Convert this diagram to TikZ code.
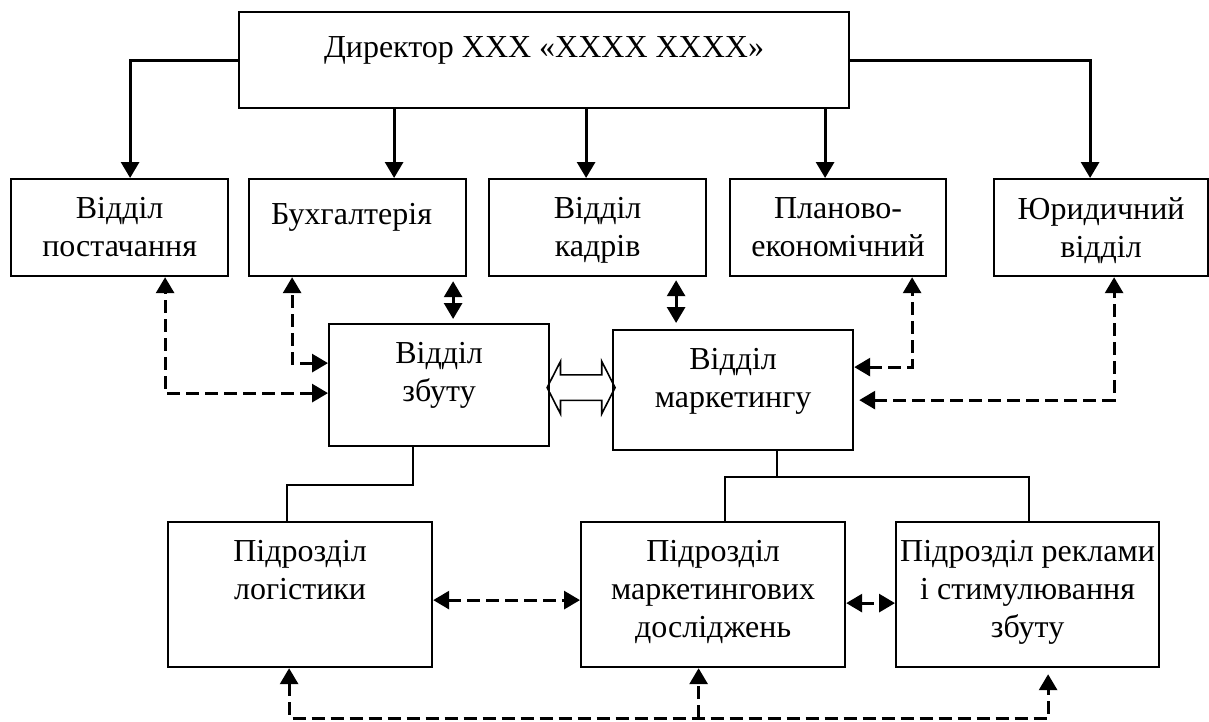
\documentclass[tikz,border=0pt]{standalone}
\usepackage{fontspec}
\setmainfont{Liberation Serif}
\usetikzlibrary{arrows.meta, calc, shapes.arrows}

\begin{document}
\begin{tikzpicture}[
            x=0.5pt, y=-0.5pt,
            >={Triangle[length=8pt, width=9pt]},
            font=\fontsize{16}{18.8}\selectfont,
            box/.style={draw, line width=1.1pt, anchor=north west, inner sep=0pt},
            boxtext/.style={anchor=north, inner sep=0pt, yshift=-9.7pt, align=center, execute at begin node=\strut},
            mainarrow/.style={->, line width=1.5pt},
            dashlink/.style={<->, line width=1.5pt, dash pattern=on 6.5pt off 3pt},
            treeline/.style={line width=0.8pt},
            dblarrow/.style={double arrow, draw, line width=0.8pt, inner sep=6pt, minimum height=34pt,
                double arrow head extend=6.75pt, double arrow tip angle=126}
        ]
        \useasboundingbox (0,0) rectangle (1209,722);

        % Nodes
        \node[box, minimum width=305pt, minimum height=48pt, label={[boxtext]north:Директор ХХХ «ХХХХ ХХХХ»}] (dir) at (238,11) {};

        \node[box, minimum width=108.5pt, minimum height=48.5pt, label={[boxtext]north:Відділ\\постачання}] (post) at (10,178) {};
        \node[box, minimum width=108.5pt, minimum height=48.5pt, label={[boxtext, xshift=-3pt]north:Бухгалтерія}] (buh) at (248,178) {};
        \node[box, minimum width=108.5pt, minimum height=48.5pt, label={[boxtext]north:Відділ\\кадрів}] (kadr) at (488,178) {};
        \node[box, minimum width=108pt, minimum height=48.5pt, label={[boxtext]north:Планово-\\економічний}] (plan) at (729,178) {};
        \node[box, minimum width=107pt, minimum height=48.5pt, label={[boxtext]north:Юридичний\\відділ}] (yur) at (993,178) {};

        \node[box, minimum width=110pt, minimum height=61pt, label={[boxtext]north:Відділ\\збуту}] (zbut) at (328,323) {};
        \node[box, minimum width=120pt, minimum height=60pt, label={[boxtext]north:Відділ\\маркетингу}] (mark) at (612,329) {};

        \node[box, minimum width=132pt, minimum height=72.5pt, label={[boxtext]north:Підрозділ\\логістики}] (logi) at (167,521) {};
        \node[box, minimum width=132pt, minimum height=72.5pt, label={[boxtext]north:Підрозділ\\маркетингових\\досліджень}] (dosl) at (580,521) {};
        \node[box, minimum width=131.5pt, minimum height=72.5pt, label={[boxtext]north:Підрозділ реклами\\і стимулювання\\збуту}] (rekl) at (895,521) {};

        \node[dblarrow] (link) at ($(zbut.east)!0.5!(mark.west)$) {};

        % Director to departments
        \draw[mainarrow] (dir.west) -| ([xshift=5.25pt]post.north);
        \draw[mainarrow] ([xshift=18.25pt]buh.north |- dir.south) -- ([xshift=18.25pt]buh.north);
        \draw[mainarrow] ([xshift=-5.75pt]kadr.north |- dir.south) -- ([xshift=-5.75pt]kadr.north);
        \draw[mainarrow] ([xshift=-6.5pt]plan.north |- dir.south) -- ([xshift=-6.5pt]plan.north);
        \draw[mainarrow] (dir.east) -| ([xshift=-5.5pt]yur.north);
        \draw[mainarrow, <->, shorten <=2pt, shorten >=2pt] ([xshift=47.75pt]buh.south) -- ([xshift=47.75pt]buh.south |- zbut.north);

        % Links (dashed)
        \draw[dashlink, shorten <=1.5pt, shorten >=3pt] ([xshift=39.25pt]kadr.south) -- ([xshift=39.25pt]kadr.south |- mark.north);
        \draw[dashlink] ([yshift=-4pt]zbut.west) -| ([xshift=22.75pt]post.south);
        \draw[dashlink] ([yshift=11pt]zbut.west) -| ([xshift=-32.75pt]buh.south);
        \draw[dashlink] ([yshift=11.5pt]mark.east) -| ([xshift=37pt]plan.south);
        \draw[dashlink, shorten <=2.5pt] ([yshift=-5pt]mark.east) -| ([xshift=6.5pt]yur.south);
        \draw[dashlink] ([yshift=-2.75pt]logi.east) -- ([yshift=-2.75pt]logi.east -| dosl.west);
        \draw[dashlink] ([yshift=-4.25pt]dosl.east) -- ([yshift=-4.25pt]dosl.east -| rekl.west);

        \coordinate (base) at (0,718);
        \draw[dashlink, shorten >=3pt] ([xshift=-5.5pt]logi.south) |- ([xshift=10.25pt]rekl.south |- base) -- ([xshift=10.25pt]rekl.south);
        \draw[dashlink, -{Triangle[length=8pt, width=9pt]}] ([xshift=-7.25pt]dosl.south |- base) -- ([xshift=-7.25pt]dosl.south);

        % Subdivisions
        \draw[treeline] ([xshift=-13pt]zbut.south) -- ++(0,38) coordinate (zfork) -| ([xshift=-6.5pt]logi.north);
        \draw[treeline] ([xshift=22pt]mark.south) -- ++(0,26) coordinate (mfork);
        \draw[treeline] ([xshift=6pt]dosl.north) |- (mfork) -| ([xshift=0.75pt]rekl.north);

        \end{tikzpicture}
\end{document}
